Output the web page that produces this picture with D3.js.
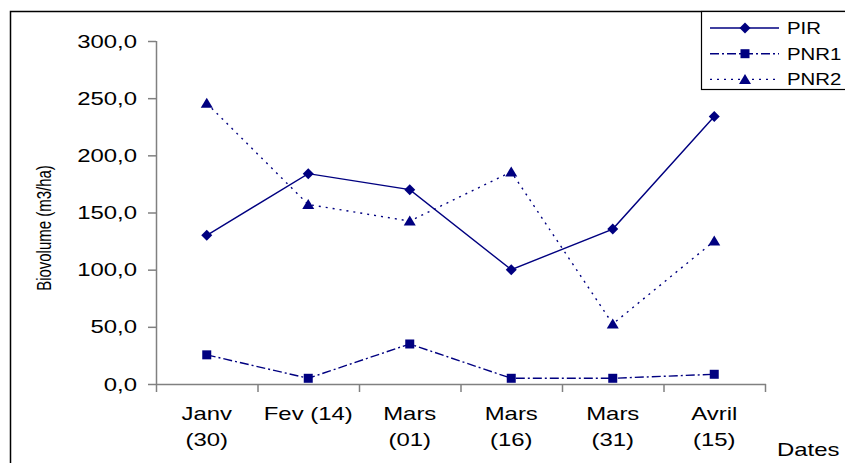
<!DOCTYPE html>
<html>
<head>
<meta charset="utf-8">
<script src="https://cdn.jsdelivr.net/npm/d3@7"></script>
<style>
  html, body { margin: 0; padding: 0; background: #fff; }
  svg { display: block; font-family: Arial, "Liberation Sans", sans-serif; }
</style>
</head>
<body>
<svg id="chart" width="845" height="463"></svg>
<script>
// Sampling dates
const categories = ["Janv (30)", "Fev (14)", "Mars (01)", "Mars (16)", "Mars (31)", "Avril (15)"];
const categoryLines = [["Janv", "(30)"], ["Fev (14)"], ["Mars", "(01)"], ["Mars", "(16)"], ["Mars", "(31)"], ["Avril", "(15)"]];

// Biovolume (m3/ha) per station
const pirValues  = [130.0, 184.0, 170.0, 100.0, 135.5, 234.0];
const pnr1Values = [25.5, 5.0, 35.0, 5.0, 5.0, 8.5];
const pnr2Values = [245.5, 157.0, 142.5, 185.5, 52.5, 125.0];

const seriesNames = ["PIR", "PNR1", "PNR2"];
const yTickValues = [0, 50, 100, 150, 200, 250, 300];

const navy = "#000080";
const svg = d3.select("#chart");

// Plot frame
const plotLeft = 156, plotRight = 765, plotTop = 41, plotBottom = 384;
const x = d3.scalePoint().domain(categories).range([plotLeft, plotRight]).padding(0.5);
const xBand = d3.scaleBand().domain(categories).range([plotLeft, plotRight]);
const y = d3.scaleLinear().domain([0, 300]).range([plotBottom, plotTop]);

const fmt = v => d3.format(".1f")(v).replace(".", ",");
const stretch = 1.33;

// Outer chart border
svg.append("path")
  .attr("d", "M10.5,470 V11.5 H860")
  .attr("fill", "none").attr("stroke", "#000").attr("stroke-width", 1.5);

// Y axis
const yAxis = svg.append("g").attr("transform", `translate(${plotLeft},0)`)
  .call(d3.axisLeft(y).tickValues(yTickValues).tickSize(8).tickFormat(""));
yAxis.select(".domain").attr("stroke", "#808080").attr("stroke-width", 1.5)
  .attr("d", `M0.5,${plotTop}V${plotBottom}`);
yAxis.selectAll(".tick line").attr("stroke", "#808080").attr("stroke-width", 1.5);

// Y tick labels (horizontally stretched text)
svg.append("g").selectAll("text").data(yTickValues).join("text")
  .attr("transform", d => `translate(137,${y(d) + 6.5}) scale(${stretch},1)`)
  .attr("text-anchor", "end").attr("font-size", 18).attr("fill", "#000")
  .text(d => fmt(d));

// X axis with ticks at category boundaries
const xAxis = svg.append("g").attr("transform", `translate(0,${plotBottom})`);
xAxis.append("line").attr("x1", plotLeft).attr("x2", plotRight + 1)
  .attr("y1", 0.5).attr("y2", 0.5).attr("stroke", "#808080").attr("stroke-width", 1.5);
const bounds = categories.map(c => xBand(c)).concat([plotRight]);
xAxis.selectAll("line.tk").data(bounds).join("line").attr("class", "tk")
  .attr("x1", d => d + 0.5).attr("x2", d => d + 0.5).attr("y1", 0).attr("y2", 8)
  .attr("stroke", "#808080").attr("stroke-width", 1.5);

// X tick labels
const xl = svg.append("g");
categories.forEach((c, i) => {
  categoryLines[i].forEach((ln, j) => {
    xl.append("text")
      .attr("transform", `translate(${x(c)},${420 + j * 26}) scale(${stretch},1)`)
      .attr("text-anchor", "middle").attr("font-size", 18).attr("fill", "#000")
      .text(ln);
  });
});

// Axis titles
svg.append("text")
  .attr("transform", `translate(51,228) scale(${stretch},1) rotate(-90)`)
  .attr("text-anchor", "middle").attr("font-size", 15).attr("fill", "#000")
  .text("Biovolume (m3/ha)");
svg.append("text")
  .attr("transform", `translate(777,456) scale(${stretch},1)`)
  .attr("font-size", 18).attr("fill", "#000").text("Dates");

// Series
const series = [
  { name: seriesNames[0], values: pirValues,  dash: null,          marker: "diamond" },
  { name: seriesNames[1], values: pnr1Values, dash: "9,3,2,3",     marker: "square" },
  { name: seriesNames[2], values: pnr2Values, dash: "2,5",         marker: "triangle" }
];

function markerPath(type) {
  if (type === "diamond") return "M0,-5.5 L5.5,0 L0,5.5 L-5.5,0 Z";
  if (type === "square") return "M-4.5,-4.5 H4.5 V4.5 H-4.5 Z";
  return "M0,-5.5 L6,4.5 L-6,4.5 Z";
}

const line = d3.line().x(d => x(d.c)).y(d => y(d.v));
series.forEach(s => {
  const pts = categories.map((c, i) => ({ c, v: s.values[i] }));
  svg.append("path").datum(pts).attr("d", line)
    .attr("fill", "none").attr("stroke", navy).attr("stroke-width", 1.4)
    .attr("stroke-dasharray", s.dash);
  svg.append("g").selectAll("path").data(pts).join("path")
    .attr("transform", d => `translate(${x(d.c)},${y(d.v)})`)
    .attr("d", markerPath(s.marker)).attr("fill", navy);
});

// Legend
const lg = svg.append("g");
lg.append("rect").attr("x", 701.5).attr("y", 11.5).attr("width", 200).attr("height", 78)
  .attr("fill", "#fff").attr("stroke", "#000").attr("stroke-width", 1.2);
series.forEach((s, i) => {
  const ly = 28 + i * 25.7;
  lg.append("line").attr("x1", 710).attr("x2", 779).attr("y1", ly).attr("y2", ly)
    .attr("stroke", navy).attr("stroke-width", 1.4).attr("stroke-dasharray", s.dash);
  lg.append("path").attr("transform", `translate(745,${ly})`)
    .attr("d", markerPath(s.marker)).attr("fill", navy);
  lg.append("text").attr("transform", `translate(787,${ly + 6}) scale(1.2,1)`)
    .attr("font-size", 17).attr("fill", "#000").text(s.name);
});
</script>
</body>
</html>
